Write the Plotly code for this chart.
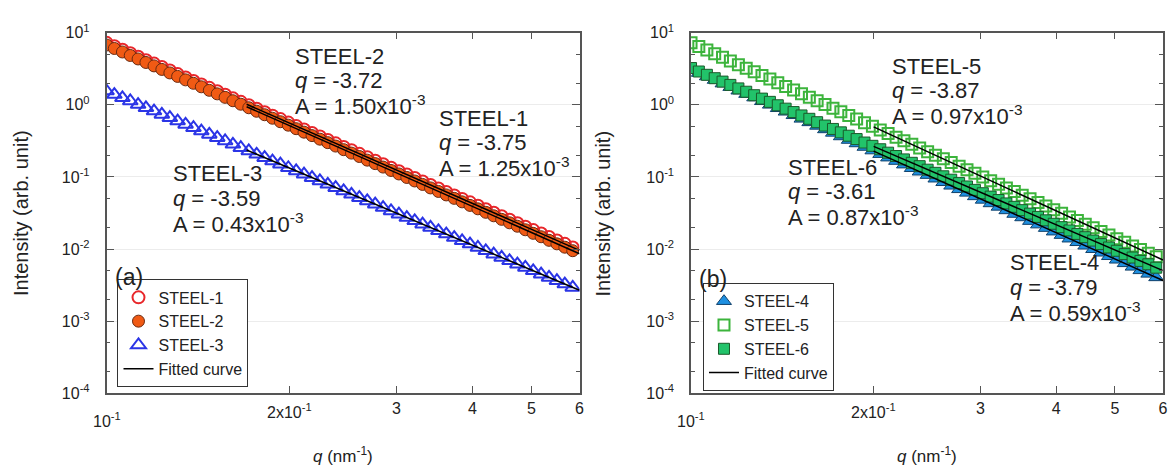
import plotly.graph_objects as go

# ---------------- data ----------------
q = [0.1000, 0.1030, 0.1062, 0.1094, 0.1127, 0.1161, 0.1197, 0.1233, 0.1271, 0.1309,
     0.1349, 0.1390, 0.1432, 0.1476, 0.1521, 0.1567, 0.1614, 0.1663, 0.1714, 0.1766,
     0.1820, 0.1875, 0.1932, 0.1991, 0.2051, 0.2113, 0.2178, 0.2244, 0.2312, 0.2382,
     0.2455, 0.2529, 0.2606, 0.2685, 0.2767, 0.2851, 0.2938, 0.3027, 0.3119, 0.3214,
     0.3311, 0.3412, 0.3516, 0.3622, 0.3733, 0.3846, 0.3963, 0.4083, 0.4207, 0.4335,
     0.4467, 0.4603, 0.4742, 0.4887, 0.5035, 0.5188, 0.5346, 0.5508, 0.5675, 0.5848]

steel1 = [7.24, 6.49, 5.80, 5.20, 4.65, 4.16, 3.73, 3.34, 2.99, 2.67,
          2.39, 2.14, 1.92, 1.72, 1.54, 1.38, 1.23, 1.10, 0.987, 0.883,
          0.791, 0.708, 0.634, 0.567, 0.508, 0.454, 0.407, 0.364, 0.326, 0.292,
          0.261, 0.234, 0.209, 0.187, 0.168, 0.150, 0.134, 0.120, 0.108, 0.0964,
          0.0863, 0.0772, 0.0692, 0.0619, 0.0554, 0.0496, 0.0444, 0.0398, 0.0356, 0.0319,
          0.0285, 0.0255, 0.0228, 0.0204, 0.0183, 0.0164, 0.0147, 0.0131, 0.0118, 0.0105]

steel2 = [6.76, 6.05, 5.41, 4.84, 4.33, 3.87, 3.47, 3.10, 2.77, 2.48,
          2.22, 1.99, 1.78, 1.59, 1.42, 1.27, 1.14, 1.02, 0.911, 0.815,
          0.729, 0.652, 0.583, 0.522, 0.467, 0.418, 0.374, 0.334, 0.299, 0.268,
          0.239, 0.214, 0.192, 0.171, 0.153, 0.137, 0.123, 0.110, 0.0983, 0.0879,
          0.0787, 0.0704, 0.0629, 0.0563, 0.0504, 0.0451, 0.0403, 0.0361, 0.0323, 0.0289,
          0.0258, 0.0231, 0.0207, 0.0185, 0.0165, 0.0148, 0.0132, 0.0118, 0.0106, 0.00948]

steel3 = [1.55, 1.39, 1.25, 1.13, 1.01, 0.910, 0.819, 0.736, 0.662, 0.595,
          0.535, 0.481, 0.433, 0.389, 0.350, 0.315, 0.283, 0.254, 0.229, 0.206,
          0.185, 0.166, 0.150, 0.134, 0.121, 0.109, 0.0977, 0.0879, 0.0790, 0.0710,
          0.0639, 0.0574, 0.0516, 0.0465, 0.0418, 0.0376, 0.0338, 0.0304, 0.0273, 0.0246,
          0.0221, 0.0199, 0.0179, 0.0161, 0.0144, 0.0130, 0.0117, 0.0105, 0.00944, 0.00848,
          0.00763, 0.00686, 0.00617, 0.00555, 0.00499, 0.00448, 0.00403, 0.00363, 0.00326, 0.00293]

steel4 = [3.09, 2.76, 2.47, 2.21, 1.97, 1.76, 1.57, 1.41, 1.26, 1.12,
          1.00, 0.896, 0.801, 0.716, 0.639, 0.571, 0.510, 0.456, 0.408, 0.364,
          0.325, 0.291, 0.260, 0.232, 0.207, 0.185, 0.166, 0.148, 0.132, 0.118,
          0.106, 0.0944, 0.0843, 0.0753, 0.0673, 0.0601, 0.0537, 0.0480, 0.0429, 0.0384,
          0.0343, 0.0306, 0.0274, 0.0244, 0.0218, 0.0195, 0.0174, 0.0156, 0.0139, 0.0124,
          0.0111, 0.00993, 0.00887, 0.00793, 0.00709, 0.00633, 0.00566, 0.00506, 0.00452, 0.00404]

steel5 = [7.24, 6.45, 5.75, 5.12, 4.56, 4.06, 3.61, 3.22, 2.87, 2.55,
          2.28, 2.03, 1.80, 1.61, 1.43, 1.27, 1.14, 1.01, 0.900, 0.802,
          0.714, 0.636, 0.566, 0.504, 0.449, 0.400, 0.356, 0.317, 0.283, 0.252,
          0.224, 0.200, 0.178, 0.158, 0.141, 0.126, 0.112, 0.0997, 0.0887, 0.0790,
          0.0704, 0.0627, 0.0558, 0.0497, 0.0443, 0.0394, 0.0351, 0.0313, 0.0279, 0.0248,
          0.0221, 0.0197, 0.0175, 0.0156, 0.0139, 0.0124, 0.0110, 0.00982, 0.00875, 0.00779]

steel6 = [3.24, 2.90, 2.61, 2.34, 2.10, 1.89, 1.69, 1.52, 1.36, 1.22,
          1.10, 0.986, 0.885, 0.794, 0.713, 0.640, 0.574, 0.516, 0.463, 0.415,
          0.373, 0.335, 0.300, 0.270, 0.242, 0.217, 0.195, 0.175, 0.157, 0.141,
          0.126, 0.114, 0.102, 0.0915, 0.0821, 0.0737, 0.0661, 0.0594, 0.0533, 0.0478,
          0.0429, 0.0385, 0.0346, 0.0310, 0.0279, 0.0250, 0.0224, 0.0201, 0.0181, 0.0162,
          0.0146, 0.0131, 0.0117, 0.0105, 0.00946, 0.00849, 0.00762, 0.00684, 0.00614, 0.00551]

# fitted curves (end points, straight lines in log-log)
fit_q_a = [0.17, 0.60]
fit1 = [1.02, 0.00957]
fit2 = [0.940, 0.00861]
fit3 = [0.236, 0.00268]
fit_q_b = [0.20, 0.60]
fit4 = [0.228, 0.00366]
fit5 = [0.495, 0.00705]
fit6 = [0.265, 0.00502]

y_tickvals = [1e-4, 1e-3, 1e-2, 1e-1, 1e0, 1e1]
y_ticktext = ["10<sup>-4</sup>", "10<sup>-3</sup>", "10<sup>-2</sup>",
              "10<sup>-1</sup>", "10<sup>0</sup>", "10<sup>1</sup>"]
x_tickvals = [0.1, 0.2, 0.3, 0.4, 0.5, 0.6]
x_ticktext = ["", "", "3", "4", "5", "6"]

labels_a = [
    ("STEEL-2", "-3.72", "1.50"),
    ("STEEL-1", "-3.75", "1.25"),
    ("STEEL-3", "-3.59", "0.43"),
]
labels_b = [
    ("STEEL-5", "-3.87", "0.97"),
    ("STEEL-6", "-3.61", "0.87"),
    ("STEEL-4", "-3.79", "0.59"),
]

# ---------------- figure ----------------
W, H = 1174, 475
FONT = "Liberation Sans, Arial, Helvetica, sans-serif"
TXT = "#222"

def px_x(x):
    return x / W

def px_y(y):
    return 1 - y / H

fig = go.Figure()

def add_data(x, y, name, xa, ya, legend, symbol, fill, line_color, size):
    fig.add_trace(go.Scatter(
        x=x, y=y, name=name, mode="markers", xaxis=xa, yaxis=ya, legend=legend,
        marker=dict(symbol=symbol, size=size,
                    color=fill if fill else "rgba(255,255,255,0)",
                    line=dict(color=line_color, width=2.0 if not fill else 1.0)),
    ))

# panel (a)
add_data(q, steel1, "STEEL-1", "x", "y", "legend", "circle", None, "#e8262a", 12)
add_data(q, steel2, "STEEL-2", "x", "y", "legend", "circle", "#f05a14", "#6b2a10", 12)
add_data(q, steel3, "STEEL-3", "x", "y", "legend", "triangle-up", None, "#2b35e6", 13)
for i, fy in enumerate([fit1, fit2, fit3]):
    fig.add_trace(go.Scatter(x=fit_q_a, y=fy, mode="lines", name="Fitted curve",
                             xaxis="x", yaxis="y", legend="legend",
                             showlegend=(i == 0),
                             line=dict(color="black", width=1.5)))

# panel (b)
add_data(q, steel4, "STEEL-4", "x2", "y2", "legend2", "triangle-up", "#1e8fe0", "#10406a", 13)
add_data(q, steel5, "STEEL-5", "x2", "y2", "legend2", "square", None, "#3cb43c", 11)
add_data(q, steel6, "STEEL-6", "x2", "y2", "legend2", "square", "#22c36a", "#1a5a2a", 11)
for i, fy in enumerate([fit4, fit5, fit6]):
    fig.add_trace(go.Scatter(x=fit_q_b, y=fy, mode="lines", name="Fitted curve",
                             xaxis="x2", yaxis="y2", legend="legend2",
                             showlegend=(i == 0),
                             line=dict(color="black", width=1.5)))

axis_common = dict(
    showline=True, linecolor="#555", linewidth=1.5, mirror="allticks",
    ticks="inside", tickcolor="#555", tickwidth=1.2,
    tickfont=dict(family=FONT, size=16, color=TXT),
    zeroline=False,
)

xdom_a = [px_x(107), px_x(582)]
xdom_b = [px_x(694), px_x(1168)]
ydom = [px_y(399), px_y(22.7)]

xaxis_common = dict(axis_common, type="log", range=[-1, -0.2218],
                    tickvals=x_tickvals, ticktext=x_ticktext, ticklen=7,
                    showgrid=False)
yaxis_common = dict(axis_common, type="log", range=[-4, 1],
                    tickvals=y_tickvals, ticktext=y_ticktext, ticklen=8,
                    showgrid=True, gridcolor="#ececec", gridwidth=1,
                    ticklabelstandoff=12,
                    minor=dict(ticks="inside", ticklen=4, tickcolor="#555",
                               tickwidth=1, showgrid=False))

legend_common = dict(xanchor="left", yanchor="bottom",
                     bordercolor="#333", borderwidth=1, bgcolor="white",
                     font=dict(family=FONT, size=16, color=TXT),
                     tracegroupgap=0, itemwidth=30)

fig.update_layout(
    width=W, height=H,
    margin=dict(l=0, r=0, t=0, b=0),
    paper_bgcolor="white", plot_bgcolor="white",
    font=dict(family=FONT, color=TXT),
    xaxis=dict(xaxis_common, domain=xdom_a, anchor="y"),
    yaxis=dict(yaxis_common, domain=ydom, anchor="x"),
    xaxis2=dict(xaxis_common, domain=xdom_b, anchor="y2"),
    yaxis2=dict(yaxis_common, domain=ydom, anchor="x2"),
    legend=dict(legend_common, x=px_x(118), y=px_y(393)),
    legend2=dict(legend_common, x=px_x(706), y=px_y(397)),
    showlegend=True,
)

ann = []

def add_text(x, y, text, size, xanchor="left", angle=0):
    ann.append(dict(x=px_x(x), y=px_y(y), xref="paper", yref="paper",
                    xanchor=xanchor, yanchor="middle", text=text, showarrow=False,
                    textangle=angle, font=dict(family=FONT, size=size, color=TXT)))

def text_block(x, y0, lab):
    name, qv, av = lab
    lines = [name, "<i>q</i> = " + qv, "A = " + av + "x10<sup>-3</sup>"]
    for j, t in enumerate(lines):
        add_text(x, y0 + 25.5 * j, t, 22)

pos_a = [(294, 47), (439, 112), (172, 170)]
pos_b = [(894, 58), (789, 163), (1012, 263)]
for p, lab in zip(pos_a, labels_a):
    text_block(p[0], p[1], lab)
for p, lab in zip(pos_b, labels_b):
    text_block(p[0], p[1], lab)

# panel letters
add_text(113, 278, "(a)", 23)
add_text(700, 280, "(b)", 23)

# x tick labels with exponents
for x0 in (107, 694):
    add_text(x0, 427, "10<sup>-1</sup>", 16, "center")
    add_text(x0 + 183.6, 418, "2x10<sup>-1</sup>", 16, "center")

# axis titles
for xc in (344.5, 931):
    add_text(xc, 463, "<i>q</i> (nm<sup>-1</sup>)", 17, "center")
for xc in (21, 606):
    add_text(xc, 211, "Intensity (arb. unit)", 20, "center", -90)

fig.update_layout(annotations=ann)

fig.write_html("out.html", config={"displayModeBar": False},
               post_script="document.body.style.margin='0px';")
